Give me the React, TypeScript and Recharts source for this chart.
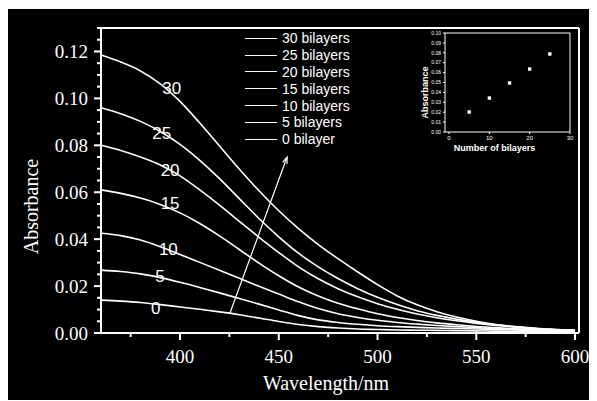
import React from "react";
import {
  LineChart,
  Line,
  XAxis,
  YAxis,
  Legend,
  ReferenceLine,
  ReferenceDot,
  ScatterChart,
  Scatter,
} from "recharts";

// absorbance spectra, every 10 nm
const wavelengths = [
  360, 370, 380, 390, 400, 410, 420, 430, 440, 450, 460, 470, 480, 490, 500,
  510, 520, 530, 540, 550, 560, 570, 580, 590, 600,
];
const abs30 = [
  0.1185, 0.1155, 0.1117, 0.1062, 0.0987, 0.0895, 0.0797, 0.0699, 0.0606,
  0.0521, 0.0445, 0.0377, 0.0317, 0.026, 0.0206, 0.0158, 0.012, 0.0091,
  0.0068, 0.005, 0.0036, 0.0026, 0.0019, 0.0015, 0.0012,
];
const abs25 = [
  0.096, 0.0935, 0.0902, 0.0859, 0.0804, 0.0736, 0.0658, 0.0573, 0.0488,
  0.041, 0.034, 0.0282, 0.0232, 0.0189, 0.0152, 0.0121, 0.0095, 0.0075,
  0.0059, 0.0046, 0.0035, 0.0027, 0.002, 0.0015, 0.0011,
];
const abs20 = [
  0.08, 0.0778, 0.075, 0.0716, 0.067, 0.061, 0.0545, 0.0476, 0.0408, 0.0343,
  0.0282, 0.0231, 0.0189, 0.0154, 0.0125, 0.0101, 0.0081, 0.0065, 0.0052,
  0.0041, 0.0032, 0.0025, 0.0019, 0.0014, 0.0011,
];
const abs15 = [
  0.061, 0.0595, 0.0575, 0.0548, 0.0512, 0.0467, 0.0414, 0.0356, 0.0298,
  0.0244, 0.0196, 0.0158, 0.0127, 0.0103, 0.0082, 0.0066, 0.0053, 0.0043,
  0.0035, 0.0028, 0.0023, 0.0018, 0.0015, 0.0012, 0.001,
];
const abs10 = [
  0.0425, 0.0415, 0.0396, 0.0368, 0.0335, 0.0301, 0.0267, 0.0233, 0.0199,
  0.0166, 0.0133, 0.0104, 0.0082, 0.0066, 0.0054, 0.0045, 0.0038, 0.0032,
  0.0027, 0.0023, 0.0019, 0.0016, 0.0013, 0.0011, 0.0009,
];
const abs5 = [
  0.0268, 0.0262, 0.0252, 0.0236, 0.0216, 0.0194, 0.0171, 0.0147, 0.0123,
  0.0098, 0.0074, 0.0056, 0.0045, 0.0037, 0.0031, 0.0027, 0.0024, 0.0021,
  0.0019, 0.0017, 0.0015, 0.0013, 0.0011, 0.0009, 0.0008,
];
const abs0 = [
  0.014, 0.0136, 0.013, 0.0121, 0.0111, 0.0101, 0.009, 0.0078, 0.0064, 0.0049,
  0.0036, 0.0027, 0.0021, 0.0017, 0.0015, 0.0013, 0.0012, 0.0011, 0.001,
  0.0009, 0.0008, 0.0007, 0.0007, 0.0006, 0.0006,
];

const seriesNames = [
  "30 bilayers",
  "25 bilayers",
  "20 bilayers",
  "15 bilayers",
  "10 bilayers",
  "5 bilayers",
  "0 bilayer",
];
const seriesValues = [abs30, abs25, abs20, abs15, abs10, abs5, abs0];

// number tags written on the curves (data coordinates)
const curveTags = ["30", "25", "20", "15", "10", "5", "0"];
const tagWavelength = [395.8, 390.7, 395, 395, 394.1, 389.9, 387.7];
const tagAbsorbance = [0.1044, 0.0851, 0.0695, 0.0553, 0.0357, 0.0243, 0.0105];

// arrow from 0 bilayer up to 30 bilayers
const arrowWavelength = [425.3, 454.2];
const arrowAbsorbance = [0.0085, 0.075];

const xTicks = [375, 400, 425, 450, 475, 500, 525, 550, 575, 600];
const yTicks = [
  0, 0.005, 0.01, 0.015, 0.02, 0.025, 0.03, 0.035, 0.04, 0.045, 0.05, 0.055,
  0.06, 0.065, 0.07, 0.075, 0.08, 0.085, 0.09, 0.095, 0.1, 0.105, 0.11, 0.115,
  0.12, 0.125, 0.13,
];

// inset: absorbance vs number of bilayers
const insetLayers = [5, 10, 15, 20, 25];
const insetAbs = [0.0202, 0.0343, 0.0495, 0.0636, 0.0788];
const insetXTicks = [0, 10, 20, 30];
const insetYTicks = [0, 0.01, 0.02, 0.03, 0.04, 0.05, 0.06, 0.07, 0.08, 0.09, 0.1];

const data = wavelengths.map((nm, i) => {
  const row: Record<string, number> = { nm };
  seriesValues.forEach((vals, k) => {
    row["s" + k] = vals[i];
  });
  return row;
});

const insetData = insetLayers.map((n, i) => ({ n, a: insetAbs[i] }));

const WHITE = "#fff";
const SERIF = "'Liberation Serif', 'Times New Roman', serif";
const SANS = "'Liberation Sans', Arial, sans-serif";

function YTick({ x, y, payload }: any) {
  const v = payload.value as number;
  const major = Math.abs(v * 50 - Math.round(v * 50)) < 1e-6;
  return (
    <g>
      <line x1={x - (major ? 7 : 4)} x2={x} y1={y} y2={y} stroke={WHITE} strokeWidth={2} />
      {major && (
        <text x={x - 13} y={y} dy="0.35em" textAnchor="end" fill={WHITE} fontSize={19} fontFamily={SERIF}>
          {v.toFixed(2)}
        </text>
      )}
    </g>
  );
}

function XTick({ x, y, payload }: any) {
  const v = payload.value as number;
  const major = v % 50 === 0;
  return (
    <g>
      <line x1={x} x2={x} y1={y} y2={y + (major ? 7 : 4)} stroke={WHITE} strokeWidth={2} />
      {major && (
        <text x={x} y={y + 23} dy="0.35em" textAnchor="middle" fill={WHITE} fontSize={19} fontFamily={SERIF}>
          {v}
        </text>
      )}
    </g>
  );
}

function Arrow({ x1, y1, x2, y2 }: any) {
  const ang = Math.atan2(y2 - y1, x2 - x1);
  const h = 7;
  const a1 = ang + Math.PI - 0.35;
  const a2 = ang + Math.PI + 0.35;
  return (
    <g>
      <line x1={x1} y1={y1} x2={x2} y2={y2} stroke={WHITE} strokeWidth={1.2} />
      <path
        d={`M${x2 + h * Math.cos(a1)},${y2 + h * Math.sin(a1)} L${x2},${y2} L${x2 + h * Math.cos(a2)},${y2 + h * Math.sin(a2)}`}
        stroke={WHITE}
        fill="none"
        strokeWidth={1.2}
      />
    </g>
  );
}

function LegendBox() {
  return (
    <div style={{ fontFamily: SANS, fontSize: 14, color: WHITE }}>
      {seriesNames.map((name) => (
        <div key={name} style={{ display: "flex", alignItems: "center", height: 16.8 }}>
          <span style={{ display: "inline-block", width: 32, borderTop: "1.5px solid #fff" }} />
          <span style={{ marginLeft: 5, lineHeight: 1, whiteSpace: "nowrap" }}>{name}</span>
        </div>
      ))}
    </div>
  );
}

function Inset() {
  return (
    <ScatterChart width={175} height={140} margin={{ top: 10, right: 13, bottom: 0, left: 0 }}>
      <XAxis
        dataKey="n"
        type="number"
        domain={[-1, 30]}
        ticks={insetXTicks}
        interval={0}
        height={31}
        stroke={WHITE}
        tickSize={2}
        tick={{ fill: WHITE, fontSize: 6, fontFamily: SANS }}
        label={{
          content: ({ viewBox }: any) => (
            <text
              x={viewBox.x + viewBox.width / 2 - 13}
              y={viewBox.y + 19}
              textAnchor="middle"
              fill={WHITE}
              fontSize={9}
              fontWeight="bold"
              fontFamily={SANS}
            >
              Number of bilayers
            </text>
          ),
        }}
      />
      <YAxis
        dataKey="a"
        type="number"
        domain={[0, 0.1]}
        ticks={insetYTicks}
        interval={0}
        width={37}
        stroke={WHITE}
        tickSize={2}
        tickFormatter={(v: number) => v.toFixed(2)}
        tick={{ fill: WHITE, fontSize: 5, fontFamily: SANS }}
        label={{
          content: ({ viewBox }: any) => {
            const cx = viewBox.x + 17;
            const cy = viewBox.y + viewBox.height / 2 + 10;
            return (
              <text
                x={cx}
                y={cy}
                transform={`rotate(-90 ${cx} ${cy})`}
                dy="0.35em"
                textAnchor="middle"
                fill={WHITE}
                fontSize={9}
                fontWeight="bold"
                fontFamily={SANS}
              >
                Absorbance
              </text>
            );
          },
        }}
      />
      <ReferenceLine y={0.1} stroke={WHITE} strokeWidth={1} />
      <ReferenceLine x={30} stroke={WHITE} strokeWidth={1} />
      <Scatter
        data={insetData}
        fill={WHITE}
        isAnimationActive={false}
        shape={(p: any) => <rect x={p.cx - 1.7} y={p.cy - 1.7} width={3.4} height={3.4} fill={WHITE} />}
      />
    </ScatterChart>
  );
}

export default function App() {
  return (
    <div style={{ position: "relative", top: 1, width: 589, height: 392, background: "#000", fontFamily: SERIF }}>
      <LineChart width={589} height={392} data={data} margin={{ top: 19, right: 18, bottom: 8, left: 8 }}>
        <XAxis
          dataKey="nm"
          type="number"
          domain={[360, 602]}
          ticks={xTicks}
          interval={0}
          height={60}
          tickSize={0}
          tickMargin={0}
          tickLine={false}
          axisLine={{ stroke: WHITE, strokeWidth: 2 }}
          tick={<XTick />}
          label={{
            content: ({ viewBox }: any) => (
              <text
                x={viewBox.x + viewBox.width / 2 - 14}
                y={viewBox.y + 57}
                textAnchor="middle"
                fill={WHITE}
                fontSize={20}
                fontFamily={SERIF}
              >
                Wavelength/nm
              </text>
            ),
          }}
        />
        <YAxis
          type="number"
          domain={[0, 0.13]}
          ticks={yTicks}
          interval={0}
          width={85}
          tickSize={0}
          tickMargin={0}
          tickLine={false}
          axisLine={{ stroke: WHITE, strokeWidth: 2 }}
          tick={<YTick />}
          label={{
            content: ({ viewBox }: any) => {
              const cx = viewBox.x + 15;
              const cy = viewBox.y + viewBox.height / 2 + 26;
              return (
                <text
                  x={cx}
                  y={cy}
                  transform={`rotate(-90 ${cx} ${cy})`}
                  dy="0.35em"
                  textAnchor="middle"
                  fill={WHITE}
                  fontSize={20}
                  fontFamily={SERIF}
                >
                  Absorbance
                </text>
              );
            },
          }}
        />
        <ReferenceLine y={0.13} stroke={WHITE} strokeWidth={2} />
        <ReferenceLine x={602} stroke={WHITE} strokeWidth={2} />
        <Legend
          layout="vertical"
          align="center"
          verticalAlign="middle"
          wrapperStyle={{ left: 237, top: 21, width: "auto", height: "auto" }}
          content={() => <LegendBox />}
        />
        {seriesNames.map((name, k) => (
          <Line
            key={name}
            name={name}
            dataKey={"s" + k}
            type="monotone"
            stroke={WHITE}
            strokeWidth={1.6}
            dot={false}
            isAnimationActive={false}
          />
        ))}
        <ReferenceLine
          segment={[
            { x: arrowWavelength[0], y: arrowAbsorbance[0] },
            { x: arrowWavelength[1], y: arrowAbsorbance[1] },
          ]}
          shape={(p: any) => <Arrow {...p} />}
        />
        {curveTags.map((tag, i) => (
          <ReferenceDot
            key={tag}
            x={tagWavelength[i]}
            y={tagAbsorbance[i]}
            r={1}
            fill="none"
            stroke="none"
            label={{ value: tag, position: "center", fill: WHITE, fontSize: 17, fontFamily: SANS }}
          />
        ))}
      </LineChart>
      <div style={{ position: "absolute", left: 400, top: 14 }}>
        <Inset />
      </div>
    </div>
  );
}
